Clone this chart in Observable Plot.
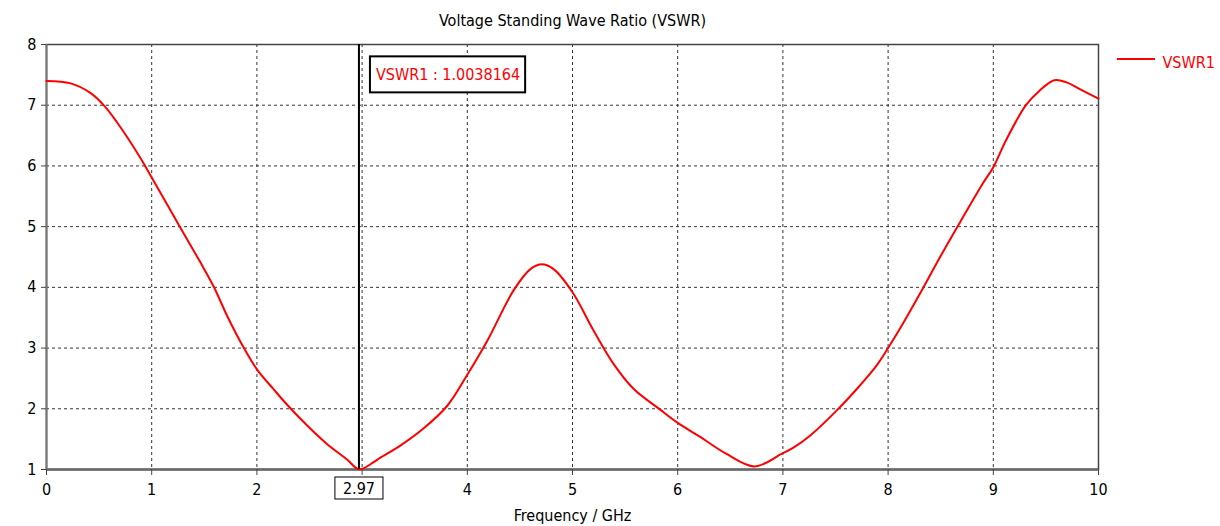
<!DOCTYPE html>
<html>
<head>
<meta charset="utf-8">
<script src="https://cdn.jsdelivr.net/npm/d3@7"></script>
<script src="https://cdn.jsdelivr.net/npm/@observablehq/plot@0.6"></script>
<style>
  html, body { margin: 0; padding: 0; background: white; }
</style>
</head>
<body>
<div id="chart"></div>
<script>
// ---- Data ----
const title = "Voltage Standing Wave Ratio (VSWR)";
const xLabel = "Frequency / GHz";
const seriesName = "VSWR1";
const frequency = [0, 0.23, 0.42, 0.55, 0.67, 0.89, 1.0, 1.27, 1.46, 1.59, 1.72, 1.87, 2.0, 2.16, 2.27, 2.48, 2.66, 2.86, 2.97, 3.11, 3.17, 3.36, 3.58, 3.81, 4.0, 4.19, 4.44, 4.6, 4.71, 4.82, 5.0, 5.2, 5.39, 5.58, 5.83, 5.99, 6.21, 6.46, 6.73, 6.99, 7.1, 7.26, 7.51, 7.73, 7.89, 8.0, 8.14, 8.33, 8.52, 8.71, 8.9, 9.0, 9.12, 9.31, 9.44, 9.58, 9.69, 9.85, 10];
const vswr = [7.40, 7.36, 7.20, 6.99, 6.72, 6.14, 5.81, 4.99, 4.42, 4.01, 3.52, 3.02, 2.65, 2.32, 2.10, 1.72, 1.43, 1.16, 1.0038164, 1.12, 1.19, 1.39, 1.67, 2.05, 2.56, 3.12, 3.95, 4.30, 4.38, 4.30, 3.92, 3.29, 2.74, 2.33, 1.99, 1.78, 1.54, 1.26, 1.05, 1.26, 1.36, 1.56, 1.97, 2.38, 2.71, 3.00, 3.40, 3.98, 4.58, 5.15, 5.71, 5.98, 6.42, 7.00, 7.24, 7.41, 7.38, 7.24, 7.11];
const xTicks = [0, 1, 2, 3, 4, 5, 6, 7, 8, 9, 10];
const xTickLabels = [0, 1, 2, 4, 5, 6, 7, 8, 9, 10]; // "3" is hidden under the marker box
const yTicks = [1, 2, 3, 4, 5, 6, 7, 8];
const xGrid = [1, 2, 3, 4, 5, 6, 7, 8, 9];
const yGrid = [2, 3, 4, 5, 6, 7];
const markerFreq = 2.97;
const markerValue = "1.0038164";

const data = frequency.map((f, i) => ({f, v: vswr[i]}));

const font = "'DejaVu Sans Condensed','DejaVu Sans',sans-serif";
const fs = 16;

const plot = Plot.plot({
  width: 1220,
  height: 526,
  marginLeft: 46,
  marginRight: 122,
  marginTop: 44,
  marginBottom: 57,
  style: {fontFamily: font, fontSize: fs + "px", background: "white", color: "#000", overflow: "visible"},
  x: {domain: [0, 10]},
  y: {domain: [1, 8]},
  marks: [
    Plot.gridX(xGrid, {stroke: "#333", strokeOpacity: 1, strokeWidth: 1, strokeDasharray: "3,3"}),
    Plot.gridY(yGrid, {stroke: "#333", strokeOpacity: 1, strokeWidth: 1, strokeDasharray: "3,3"}),
    Plot.frame({stroke: "#444", strokeWidth: 1.5}),
    Plot.ruleY([1], {stroke: "#666", strokeWidth: 2.5}),
    Plot.ruleX([0], {stroke: "#777", strokeWidth: 2}),
    Plot.axisX(xTicks, {tickSize: 6, stroke: "#444", text: null, label: null}),
    Plot.axisX(xTickLabels, {tickSize: 0, tickPadding: 14, fill: "#000", label: null, fontSize: fs, tickFormat: d => String(d)}),
    Plot.axisY(yTicks, {tickSize: 5, tickPadding: 5, stroke: "#444", fill: "#000", label: null, fontSize: fs, tickFormat: d => String(d)}),
    Plot.line(data, {x: "f", y: "v", stroke: "red", strokeWidth: 2, curve: "catmull-rom"}),
    Plot.ruleX([markerFreq], {stroke: "black", strokeWidth: 2}),
    Plot.text([markerFreq], {x: d => d, frameAnchor: "bottom", dy: 24, text: d => d.toFixed(2), fill: "#000", fontSize: fs, className: "marker-label"}),
    Plot.text([markerFreq], {x: d => d, frameAnchor: "top", dy: 24, dx: 17, textAnchor: "start", text: d => `${seriesName} : ${markerValue}`, fill: "red", fontSize: fs, className: "annot"}),
    Plot.text([title], {frameAnchor: "top", dy: -30, text: d => d, fill: "#000", fontSize: fs}),
    Plot.text([xLabel], {frameAnchor: "bottom", dy: 51, text: d => d, fill: "#000", fontSize: fs}),
    Plot.text([seriesName], {frameAnchor: "top-right", dx: 64, dy: 12, textAnchor: "start", text: d => d, fill: "red", fontSize: fs, className: "legend-text"})
  ]
});

document.getElementById("chart").append(plot);

// boxes around marker label and annotation (same transform as the text)
const svg = d3.select(plot);
function boxAround(cls, padL, padR, h, sw) {
  svg.selectAll(`g.${cls} text`).each(function() {
    const b = this.getBBox();
    const cy = b.y + b.height / 2;
    const r = d3.select(this.parentNode).insert("rect", "text")
      .attr("x", b.x - padL).attr("y", cy - h / 2)
      .attr("width", b.width + padL + padR).attr("height", h)
      .attr("fill", "white").attr("stroke", "black").attr("stroke-width", sw);
    const t = this.getAttribute("transform");
    if (t) r.attr("transform", t);
  });
}
boxAround("marker-label", 8, 8, 22, 1);
boxAround("annot", 6, 5, 36, 2);

// legend line swatch
const xs = plot.scale("x"), ys = plot.scale("y");
const xr = xs.apply(10), yt = ys.apply(8);
svg.append("line")
  .attr("x1", xr + 19).attr("x2", xr + 57)
  .attr("y1", yt + 15).attr("y2", yt + 15)
  .attr("stroke", "red").attr("stroke-width", 2);
</script>
</body>
</html>
